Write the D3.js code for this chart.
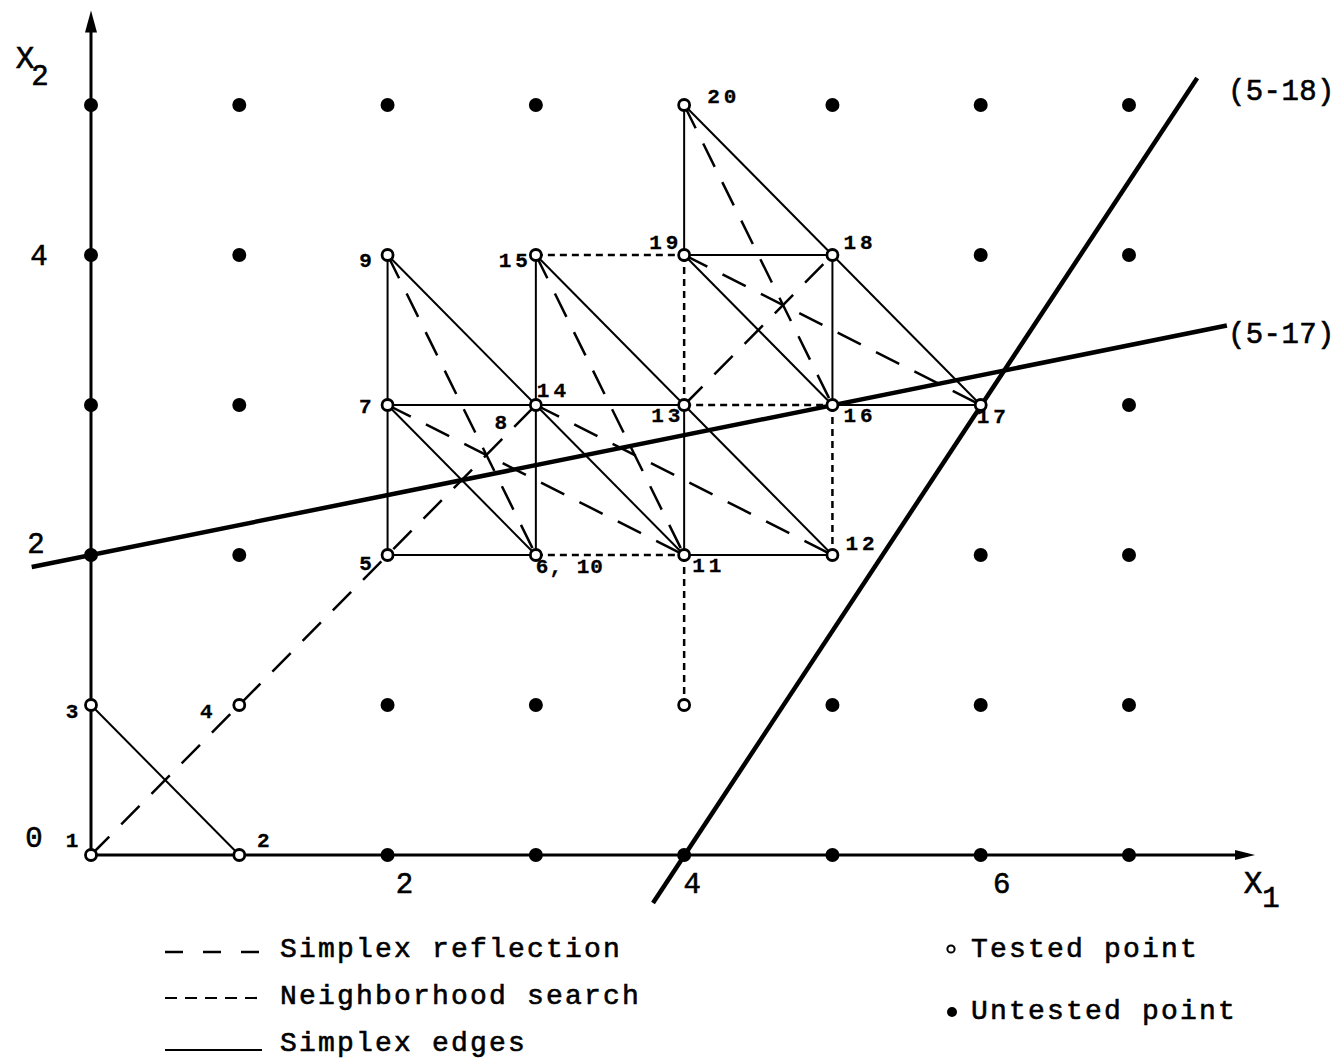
<!DOCTYPE html>
<html><head><meta charset="utf-8">
<script src="https://cdn.jsdelivr.net/npm/d3@7"></script>
<style>
html,body{margin:0;padding:0;background:#fff;}
svg{display:block;}
text{font-family:"Liberation Mono","DejaVu Sans Mono",monospace;fill:#000;stroke:#000;stroke-width:0.6px;}
text.pl{stroke-width:0.3px;}
</style>
</head><body>
<svg id="chart" width="1338" height="1061"></svg>
<script>
// ---------------- DATA ----------------
const x1Ticks = [2, 4, 6];
const x2Ticks = [0, 2, 4];
const axisLabels = ["X", "X"];
const axisSubs = ["1", "2"];

// tested points (open circles), lattice coordinates [x1, x2]
const testedPoints = [[0,0],[1,0],[0,1],[1,1],[2,2],[3,2],[2,3],[3,3],[2,4],[4,2],[5,2],[4,3],[3,4],[5,3],[6,3],[5,4],[4,4],[4,5],[4,1]];
// untested points (filled dots)
const untestedPoints = [
  [2,0],[3,0],[4,0],[5,0],[6,0],[7,0],
  [2,1],[3,1],[5,1],[6,1],[7,1],
  [0,2],[1,2],[6,2],[7,2],
  [0,3],[1,3],[7,3],
  [0,4],[1,4],[6,4],[7,4],
  [0,5],[1,5],[2,5],[3,5],[5,5],[6,5],[7,5]
];
// point number labels
const labelTexts  = ["1","2","3","4","5","6, 10","7","8","9","11","12","13","14","15","16","17","18","19","20"];
const labelPoints = [[0,0],[1,0],[0,1],[1,1],[2,2],[3,2],[2,3],[3,3],[2,4],[4,2],[5,2],[4,3],[3,3],[3,4],[5,3],[6,3],[5,4],[4,4],[4,5]];

// simplex edges (solid)
const simplexEdges = [
  [[0,1],[1,0]], [[2,2],[2,3]], [[2,2],[3,2]], [[2,3],[3,2]], [[2,3],[3,3]],
  [[3,3],[3,2]], [[2,3],[2,4]], [[2,4],[3,3]], [[3,3],[4,2]], [[3,4],[3,3]],
  [[3,4],[4,3]], [[3,3],[4,3]], [[4,3],[4,2]], [[4,2],[5,2]], [[4,3],[5,2]],
  [[4,4],[5,4]], [[4,4],[5,3]], [[5,4],[5,3]], [[5,4],[6,3]], [[5,3],[6,3]],
  [[4,5],[4,4]], [[4,5],[5,4]]
];
// simplex reflections (long dashes)
const reflections = [
  [[0,0],[3,3]], [[2,4],[3,2]], [[2,3],[4,2]], [[3,4],[4,2]],
  [[3,3],[5,2]], [[4,3],[5,4]], [[4,5],[5,3]], [[4,4],[6,3]]
];
// neighborhood search (short dashes)
const neighborhood = [
  [[3,2],[4,2]], [[4,2],[4,1]], [[3,4],[4,4]], [[4,4],[4,3]], [[4,3],[5,3]], [[5,3],[5,2]]
];

// constraint lines
const constraintLabels = ["(5-17)", "(5-18)"];
const constraintEnds = [
  [[-0.4, 1.92], [7.66, 3.53]],
  [[3.79, -0.32], [7.46, 5.18]]
];

// legend
const legendLineTexts = ["Simplex reflection", "Neighborhood search", "Simplex edges"];
const legendPointTexts = ["Tested point", "Untested point"];

// ---------------- LAYOUT ----------------
const svg = d3.select("#chart");
const x = d3.scaleLinear().domain([0, 7]).range([91, 1129]);
const y = d3.scaleLinear().domain([0, 5]).range([855, 105]);

svg.append("rect").attr("width",1338).attr("height",1061).attr("fill","#fff");

const gLines = svg.append("g").attr("fill","none").attr("stroke","#000").attr("stroke-linecap","butt");

// axes
gLines.append("line").attr("x1", x(0)).attr("y1", y(0)).attr("x2", x(7.8)).attr("y2", y(0)).attr("stroke-width", 3);
gLines.append("line").attr("x1", x(0)).attr("y1", y(0)).attr("x2", x(0)).attr("y2", y(5.58)).attr("stroke-width", 3);
// arrowheads
const tipX = x(7.85), tipY = y(5.63);
svg.append("path").attr("d", `M${tipX},${y(0)} L${tipX-20},${y(0)-5} L${tipX-20},${y(0)+5} Z`).attr("fill","#000");
svg.append("path").attr("d", `M${x(0)},${tipY} L${x(0)-6},${tipY+22} L${x(0)+6},${tipY+22} Z`).attr("fill","#000");

function drawSegs(data, width, dash) {
  gLines.selectAll(null).data(data).enter().append("line")
    .attr("x1", d => x(d[0][0])).attr("y1", d => y(d[0][1]))
    .attr("x2", d => x(d[1][0])).attr("y2", d => y(d[1][1]))
    .attr("stroke-width", width)
    .attr("stroke-dasharray", dash);
}
drawSegs(simplexEdges, 2, null);
drawSegs(reflections, 2.5, "26,17");
drawSegs(neighborhood, 2.5, "7,5");

// constraint lines
drawSegs(constraintEnds, 4.5, null);

// constraint labels
const consLabelPos = [[1228, 343], [1228, 100]];
svg.selectAll(null).data(constraintLabels).enter().append("text")
  .attr("x", (d,i) => consLabelPos[i][0]).attr("y", (d,i) => consLabelPos[i][1])
  .attr("font-size", 29).attr("letter-spacing", 0.4).text(d => d);

// untested points
svg.append("g").selectAll("circle").data(untestedPoints).enter().append("circle")
  .attr("cx", d => x(d[0])).attr("cy", d => y(d[1])).attr("r", 7).attr("fill", "#000");

// tested points
svg.append("g").selectAll("circle").data(testedPoints).enter().append("circle")
  .attr("cx", d => x(d[0])).attr("cy", d => y(d[1])).attr("r", 5.5)
  .attr("fill", "#fff").attr("stroke", "#000").attr("stroke-width", 2.8);

// point labels
const labelPlace = {
  "1":{dx:-17,dy:-8,a:"middle"}, "2":{dx:26,dy:-8,a:"middle"},
  "3":{dx:-17,dy:13,a:"middle"}, "4":{dx:-31,dy:13,a:"middle"},
  "5":{dx:-20,dy:15,a:"middle"}, "6, 10":{dx:0,dy:18,a:"start"},
  "7":{dx:-12,dy:8,a:"end"}, "8":{dx:-33,dy:24,a:"middle"},
  "9":{dx:-20,dy:12,a:"middle"}, "11":{dx:8,dy:17,a:"start"},
  "12":{dx:13,dy:-5,a:"start"}, "13":{dx:-33,dy:17,a:"start"},
  "14":{dx:1,dy:-8,a:"start"}, "15":{dx:-4,dy:12,a:"end"},
  "16":{dx:11,dy:17,a:"start"}, "17":{dx:-4,dy:18,a:"start"},
  "18":{dx:11,dy:-6,a:"start"}, "19":{dx:-35,dy:-6,a:"start"},
  "20":{dx:23,dy:-2,a:"start"}
};
svg.append("g").selectAll("text").data(labelTexts).enter().append("text")
  .attr("class","pl")
  .attr("x", (d,i) => x(labelPoints[i][0]) + labelPlace[d].dx)
  .attr("y", (d,i) => y(labelPoints[i][1]) + labelPlace[d].dy)
  .attr("text-anchor", d => labelPlace[d].a)
  .attr("font-size", 21).attr("font-weight", "bold")
  .attr("letter-spacing", d => d === "6, 10" ? 1 : 4)
  .text(d => d);

// tick labels
const x2TickPos = {0:{dx:-57,dy:-8}, 2:{dx:-55,dy:-2}, 4:{dx:-52,dy:10}};
svg.append("g").selectAll("text").data(x2Ticks).enter().append("text")
  .attr("x", d => x(0) + x2TickPos[d].dx).attr("y", d => y(d) + x2TickPos[d].dy)
  .attr("text-anchor","middle").attr("font-size", 29).text(d => d);
const x1TickPos = {2:17, 4:8, 6:21};
svg.append("g").selectAll("text").data(x1Ticks).enter().append("text")
  .attr("x", d => x(d) + x1TickPos[d]).attr("y", y(0) + 38)
  .attr("text-anchor","middle").attr("font-size", 29).text(d => d);

// axis titles
const axisTitlePos = [{x:1253, y:893, sx:1271, sy:907}, {x:25, y:68, sx:40, sy:85}];
axisLabels.forEach((t, i) => {
  const p = axisTitlePos[i];
  svg.append("text").attr("x", p.x).attr("y", p.y).attr("text-anchor","middle").attr("font-size", 31).text(t);
  svg.append("text").attr("x", p.sx).attr("y", p.sy).attr("text-anchor","middle").attr("font-size", 29).text(axisSubs[i]);
});

// legend (line styles)
const legRows = [957, 1004, 1051];
const legStroke = [{w:2.5, d:"18,20", dy:-5}, {w:2.2, d:"12,8", dy:-6}, {w:2.2, d:null, dy:-1}];
legendLineTexts.forEach((t, i) => {
  svg.append("line").attr("x1", 165).attr("x2", 262)
    .attr("y1", legRows[i] + legStroke[i].dy).attr("y2", legRows[i] + legStroke[i].dy)
    .attr("stroke","#000").attr("stroke-width", legStroke[i].w).attr("stroke-dasharray", legStroke[i].d);
  svg.append("text").attr("x", 280).attr("y", legRows[i]).attr("font-size", 28).attr("letter-spacing", 2.2).text(t);
});
// legend (points)
const legPtRows = [957, 1019];
legendPointTexts.forEach((t, i) => {
  if (i === 0) {
    svg.append("circle").attr("cx", 951).attr("cy", legPtRows[i] - 8).attr("r", 3.6)
      .attr("fill","#fff").attr("stroke","#000").attr("stroke-width", 2);
  } else {
    svg.append("circle").attr("cx", 952).attr("cy", legPtRows[i] - 7).attr("r", 5).attr("fill","#000");
  }
  svg.append("text").attr("x", 971).attr("y", legPtRows[i]).attr("font-size", 28).attr("letter-spacing", 2.2).text(t);
});
</script>
</body></html>
